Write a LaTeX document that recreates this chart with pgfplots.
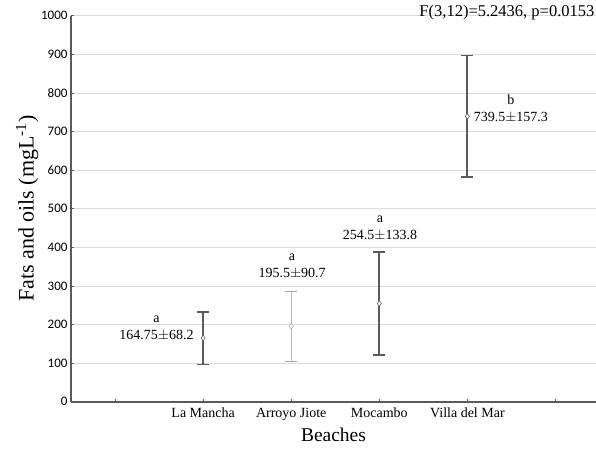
\documentclass[border=0pt]{standalone}
\usepackage{fontspec}
\setmainfont{Liberation Serif}
\newfontfamily\tickfont{Carlito}
\usepackage{pgfplots}
\pgfplotsset{compat=1.18}
\definecolor{axgray}{HTML}{5A5A5A}
\definecolor{gridgray}{HTML}{DCDCDC}
\begin{document}
\begin{tikzpicture}
\begin{axis}[
  at={(0,0)}, anchor=south west,
  scale only axis, width=525bp, height=386bp,
  xmin=-0.5, xmax=5.46, ymin=0, ymax=1000,
  axis x line*=bottom, axis y line*=left,
  axis line style={axgray, line width=1.6bp, -},
  xtick={0,1,2,3,4,5},
  xticklabels={,La Mancha,Arroyo Jiote,Mocambo,Villa del Mar,},
  x tick label style={font=\fontsize{14bp}{16bp}\selectfont, yshift=-3bp},
  ytick={0,100,...,1000},
  y tick label style={font=\tickfont\fontsize{13bp}{15bp}\selectfont},
  /pgf/number format/assume math mode=true,
  /pgf/number format/1000 sep={},
  tick style={axgray, line width=0.6bp},
  major tick length=3bp,
  ymajorgrids, grid style={gridgray, line width=0.5bp},
  xlabel={Beaches}, ylabel={Fats and oils (mgL\textsuperscript{-1})},
  xlabel style={font=\fontsize{19.5bp}{21bp}\selectfont, yshift=-1bp},
  ylabel style={font=\fontsize{22bp}{24bp}\selectfont, yshift=-4bp},
  clip=false,
]
\addplot[only marks, mark=diamond*, mark size=2.8bp, mark options={fill=white, draw=axgray, line width=0.5bp},
  error bars/.cd, y dir=both, y explicit,
  error bar style={axgray, line width=1.8bp},
  error mark options={rotate=90, mark size=6bp, axgray, line width=1.8bp}]
  coordinates {
    (1,164.75) +- (0,68.2)
    (3,254.5) +- (0,133.8)
    (4,739.5) +- (0,157.3)
  };
\addplot[only marks, mark=diamond*, mark size=2.8bp, mark options={fill=white, draw=gray!70, line width=0.5bp},
  error bars/.cd, y dir=both, y explicit,
  error bar style={gray!55, line width=1.2bp},
  error mark options={rotate=90, mark size=6bp, gray!70, line width=1.4bp}]
  coordinates {
    (2,195.5) +- (0,90.7)
  };
\begin{scope}[every node/.style={font=\fontsize{14bp}{17bp}\selectfont, align=center, inner sep=0pt}]
\node at (axis cs:0.47,190) {a\\164.75$\pm$68.2};
\node at (axis cs:2.01,350) {a\\195.5$\pm$90.7};
\node at (axis cs:3.007,449) {a\\254.5$\pm$133.8};
\node at (axis cs:4.494,758) {b\\739.5$\pm$157.3};
\node[font=\fontsize{16.5bp}{18bp}\selectfont] at (axis cs:4.449,1008) {F(3,12)=5.2436, p=0.0153};
\end{scope}
\end{axis}
\pgfresetboundingbox
\useasboundingbox (-71bp,-50.3bp) rectangle (525bp,401.7bp);
\end{tikzpicture}
\end{document}
